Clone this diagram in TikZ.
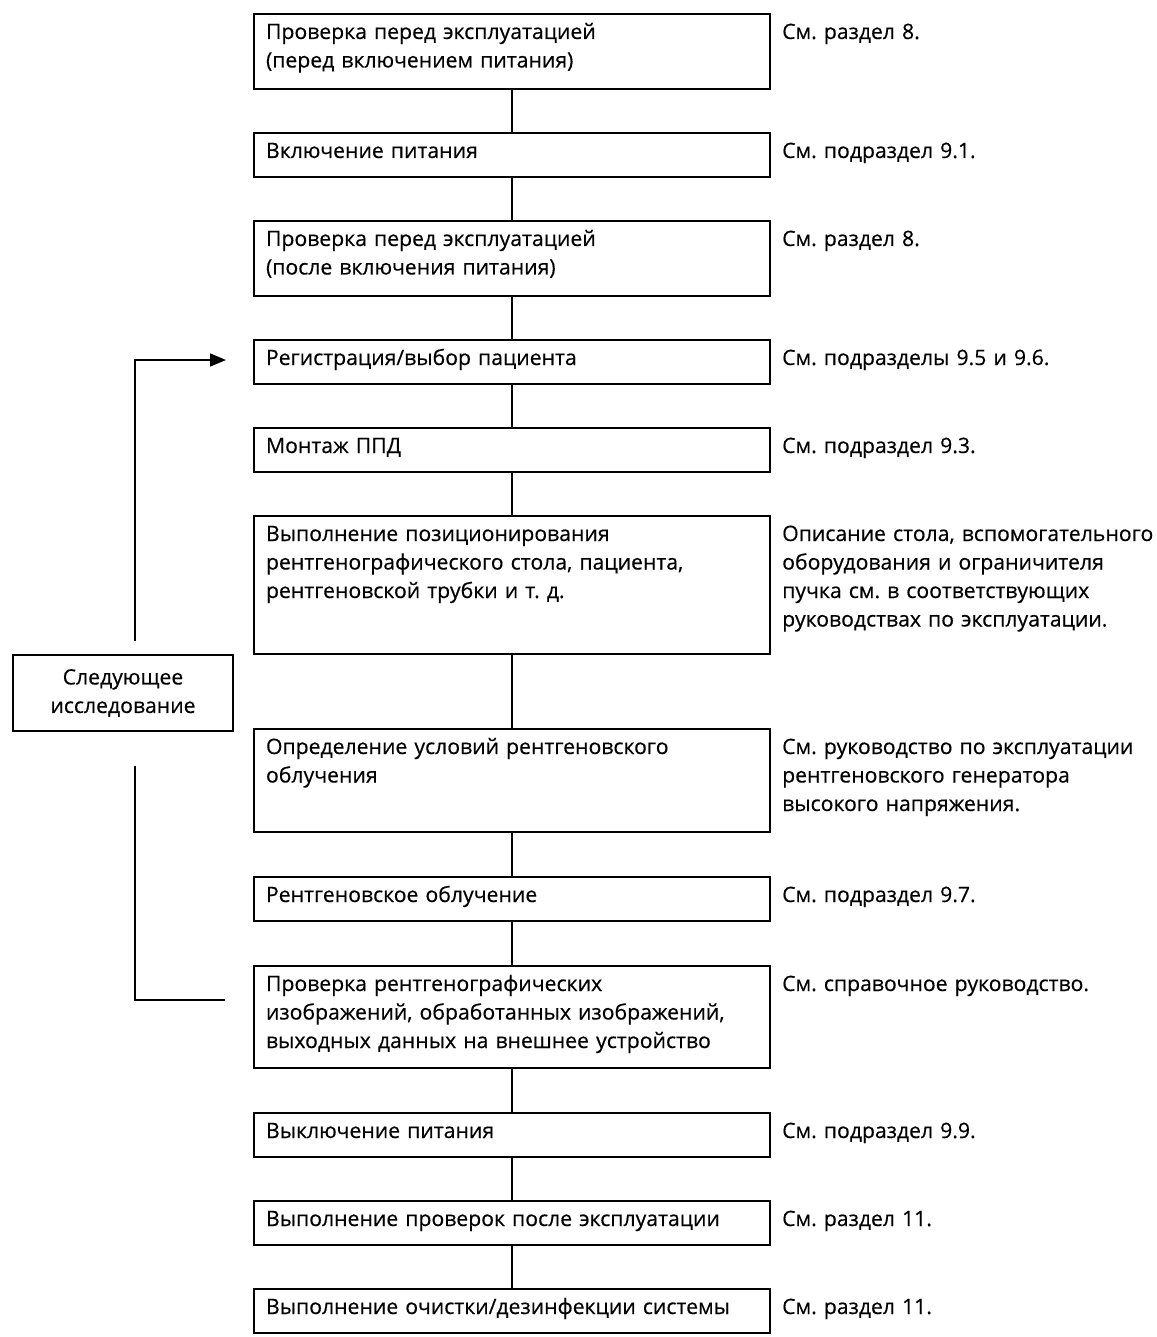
\documentclass[tikz,border=0pt]{standalone}
\usepackage{fontspec}
\setmainfont{Open Sans}[FakeBold=0.4]
\usetikzlibrary{positioning,arrows.meta}

\begin{document}
\frenchspacing
\begin{tikzpicture}[x=1pt, y=1pt, font=\fontsize{21.2}{28.5}\selectfont, block/.style = {rectangle, draw, line width=2.6pt, outer sep=0pt, text width=492pt, align=left, inner xsep=12pt, inner ysep=10pt, text height=15pt, text depth=9pt}, tall/.style = {block, text depth=#1}, note/.style = {text width=384pt, align=left, inner sep=0pt}, nextbox/.style = {rectangle, draw, line width=2.2pt, align=center, minimum width=220pt, minimum height=76pt, inner sep=0pt}, line/.style = {draw, line width=2.2pt}, back/.style = {draw, line width=1.6pt}, node distance = 44pt]
			\useasboundingbox (0,0) rectangle (1156,-1337);
			\node[tall=40pt, anchor=north west] (precheck) at (254,-14) {Проверка перед эксплуатацией\\(перед включением питания)};
			\node[block, below=of precheck] (poweron) {Включение питания};
			\node[tall=40pt, below=of poweron] (postcheck) {Проверка перед эксплуатацией\\(после включения питания)};
			\node[block, below=of postcheck] (patient) {Регистрация/выбор пациента};
			\node[block, below=of patient] (mount) {Монтаж ППД};
			\node[tall=103pt, below=of mount] (position) {Выполнение позиционирования\\рентгенографического стола, пациента,\\рентгеновской трубки и т. д.};
			\node[tall=68pt, below=75pt of position] (condition) {Определение условий рентгеновского\\облучения};
			\node[block, below=45pt of condition] (expose) {Рентгеновское облучение};
			\node[tall=67pt, below=45pt of expose] (review) {Проверка рентгенографических\\изображений, обработанных изображений,\\выходных данных на внешнее устройство};
			\node[block, below=45pt of review] (poweroff) {Выключение питания};
			\node[block, below=of poweroff] (postuse) {Выполнение проверок после эксплуатации};
			\node[block, below=of postuse] (clean) {Выполнение очистки/дезинфекции системы};
			\node[nextbox] (next) at (123,-693) {Следующее\\исследование};
			
			\node[note, right=12pt of precheck.base east, anchor=base west] (n1) {См. раздел 8.};
			\node[note, right=12pt of poweron.base east, anchor=base west] (n2) {См. подраздел 9.1.};
			\node[note, right=12pt of postcheck.base east, anchor=base west] (n3) {См. раздел 8.};
			\node[note, right=12pt of patient.base east, anchor=base west] (n4) {См. подразделы 9.5 и 9.6.};
			\node[note, right=12pt of mount.base east, anchor=base west] (n5) {См. подраздел 9.3.};
			\node[note, right=12pt of position.base east, anchor=base west] (n6) {Описание стола, вспомогательного\\оборудования и ограничителя\\пучка см. в соответствующих\\руководствах по эксплуатации.};
			\node[note, right=12pt of condition.base east, anchor=base west] (n7) {См. руководство по эксплуатации\\рентгеновского генератора\\высокого напряжения.};
			\node[note, right=12pt of expose.base east, anchor=base west] (n8) {См. подраздел 9.7.};
			\node[note, right=12pt of review.base east, anchor=base west] (n9) {См. справочное руководство.};
			\node[note, right=12pt of poweroff.base east, anchor=base west] (n10) {См. подраздел 9.9.};
			\node[note, right=12pt of postuse.base east, anchor=base west] (n11) {См. раздел 11.};
			\node[note, right=12pt of clean.base east, anchor=base west] (n12) {См. раздел 11.};
			
			\path[line] (precheck) -- (poweron);
			\path[line] (poweron) -- (postcheck);
			\path[line] (postcheck) -- (patient);
			\path[line] (patient) -- (mount);
			\path[line] (mount) -- (position);
			\path[line] (position) -- (condition);
			\path[line] (condition) -- (expose);
			\path[line] (expose) -- (review);
			\path[line] (review) -- (poweroff);
			\path[line] (poweroff) -- (postuse);
			\path[line] (postuse) -- (clean);
			\path[back] ([xshift=-29pt,yshift=17pt]review.west) -| ([xshift=12pt,yshift=-34pt]next.south);
			\path[back,-{Triangle[length=16pt,width=13pt]}] ([xshift=12pt,yshift=13pt]next.north) |- ([xshift=-28pt,yshift=2pt]patient.west);
			\end{tikzpicture}
\end{document}
